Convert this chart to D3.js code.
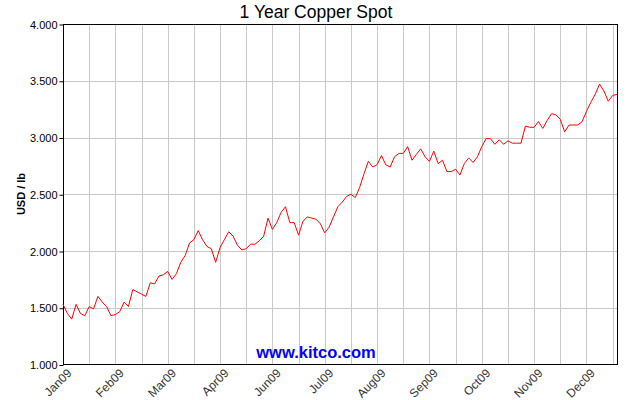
<!DOCTYPE html>
<html><head><meta charset="utf-8">
<script src="https://cdn.jsdelivr.net/npm/d3@7"></script>
<style>body{margin:0;background:#fff}svg{display:block}</style>
</head><body>
<svg id="c" width="630" height="400"></svg>
<script>
const title = "1 Year Copper Spot";
const yTitle = "USD / lb";
const watermark = "www.kitco.com";
// one value per two trading days
const prices = [
1.53,1.45,1.40,1.53,1.45,1.43,1.51,1.49,1.60,1.55,
1.51,1.43,1.44,1.465,1.55,1.51,1.66,1.64,1.62,1.60,
1.72,1.71,1.78,1.79,1.82,1.75,1.80,1.90,1.96,2.07,
2.10,2.18,2.10,2.04,2.02,1.90,2.03,2.10,2.17,2.13,
2.05,2.01,2.02,2.06,2.06,2.09,2.13,2.29,2.19,2.25,
2.34,2.39,2.25,2.25,2.14,2.26,2.30,2.29,2.28,2.24,
2.16,2.21,2.30,2.39,2.43,2.48,2.50,2.47,2.56,2.68,
2.79,2.74,2.76,2.84,2.76,2.74,2.83,2.86,2.86,2.92,
2.80,2.85,2.90,2.83,2.79,2.88,2.77,2.80,2.70,2.70,
2.72,2.67,2.77,2.82,2.78,2.83,2.92,2.99,2.99,2.94,
2.98,2.94,2.97,2.95,2.95,2.95,3.10,3.09,3.09,3.14,
3.08,3.15,3.21,3.20,3.16,3.05,3.11,3.11,3.11,3.14,
3.23,3.31,3.38,3.47,3.41,3.32,3.37,3.38
];
const monthLabels = ["Jan09","Feb09","Mar09","Apr09","Jun09","Jul09","Aug09","Sep09","Oct09","Nov09","Dec09"];
const yTicks = [1.0,1.5,2.0,2.5,3.0,3.5,4.0];
const gridEvery = 6;   // samples per vertical grid line
const labelEvery = 12; // samples per month label

const svg = d3.select("#c");
const L = 63, R = 617, T = 24, B = 364.5;
const FONT = "Liberation Sans, Arial, sans-serif";
const x = d3.scaleLinear().domain([0, prices.length - 1]).range([L, R]);
const y = d3.scaleLinear().domain([1, 4]).range([B, T]);

// grid
const gx = d3.range(gridEvery, prices.length - 1, gridEvery);
svg.append("g").selectAll("line").data(gx).join("line")
  .attr("x1", d => Math.round(x(d)) + 0.5).attr("x2", d => Math.round(x(d)) + 0.5)
  .attr("y1", T).attr("y2", B)
  .attr("stroke", "#c8c8c8").attr("stroke-width", 1);
svg.append("g").selectAll("line").data(yTicks.slice(1, -1)).join("line")
  .attr("x1", L).attr("x2", R)
  .attr("y1", d => Math.round(y(d)) + 0.5).attr("y2", d => Math.round(y(d)) + 0.5)
  .attr("stroke", "#c8c8c8").attr("stroke-width", 1);

// y axis
const yAxis = d3.axisLeft(y).tickValues(yTicks).tickFormat(d3.format(".3f")).tickSize(4).tickPadding(2);
const ya = svg.append("g").attr("transform", `translate(${L + 0.5},0.5)`).call(yAxis);
ya.select(".domain").remove();
ya.selectAll("text").attr("font-family", FONT).attr("font-size", 11).attr("fill", "#000");

// x axis labels
const xa = svg.append("g");
xa.selectAll("text").data(monthLabels).join("text")
  .attr("transform", (d, i) => `translate(${x(i * labelEvery) + 3},${B + 3}) rotate(-45)`)
  .attr("text-anchor", "end").attr("dy", "0.75em")
  .attr("font-family", FONT).attr("font-size", 12).attr("fill", "#333")
  .text(d => d);

// frame
svg.append("rect").attr("x", L + 0.5).attr("y", T + 0.5).attr("width", R - L).attr("height", B - T - 0.5)
  .attr("fill", "none").attr("stroke", "#000").attr("stroke-width", 1);

// watermark
svg.append("text").attr("x", 316).attr("y", 358).attr("text-anchor", "middle")
  .attr("font-family", FONT).attr("font-size", 16.5).attr("font-weight", "bold")
  .attr("fill", "#0000ff").text(watermark);

// line
const line = d3.line().x((d, i) => x(i)).y(d => y(d));
svg.append("path").datum(prices).attr("d", line)
  .attr("fill", "none").attr("stroke", "#ff0000").attr("stroke-width", 1);

// title
svg.append("text").attr("x", 316).attr("y", 18).attr("text-anchor", "middle")
  .attr("font-family", FONT).attr("font-size", 17.5)
  .attr("fill", "#000").text(title);

// y title
svg.append("text").attr("transform", `translate(25,194) rotate(-90)`).attr("text-anchor", "middle")
  .attr("font-family", FONT).attr("font-size", 11).attr("font-weight", "bold")
  .attr("fill", "#000").text(yTitle);
</script>
</body></html>
